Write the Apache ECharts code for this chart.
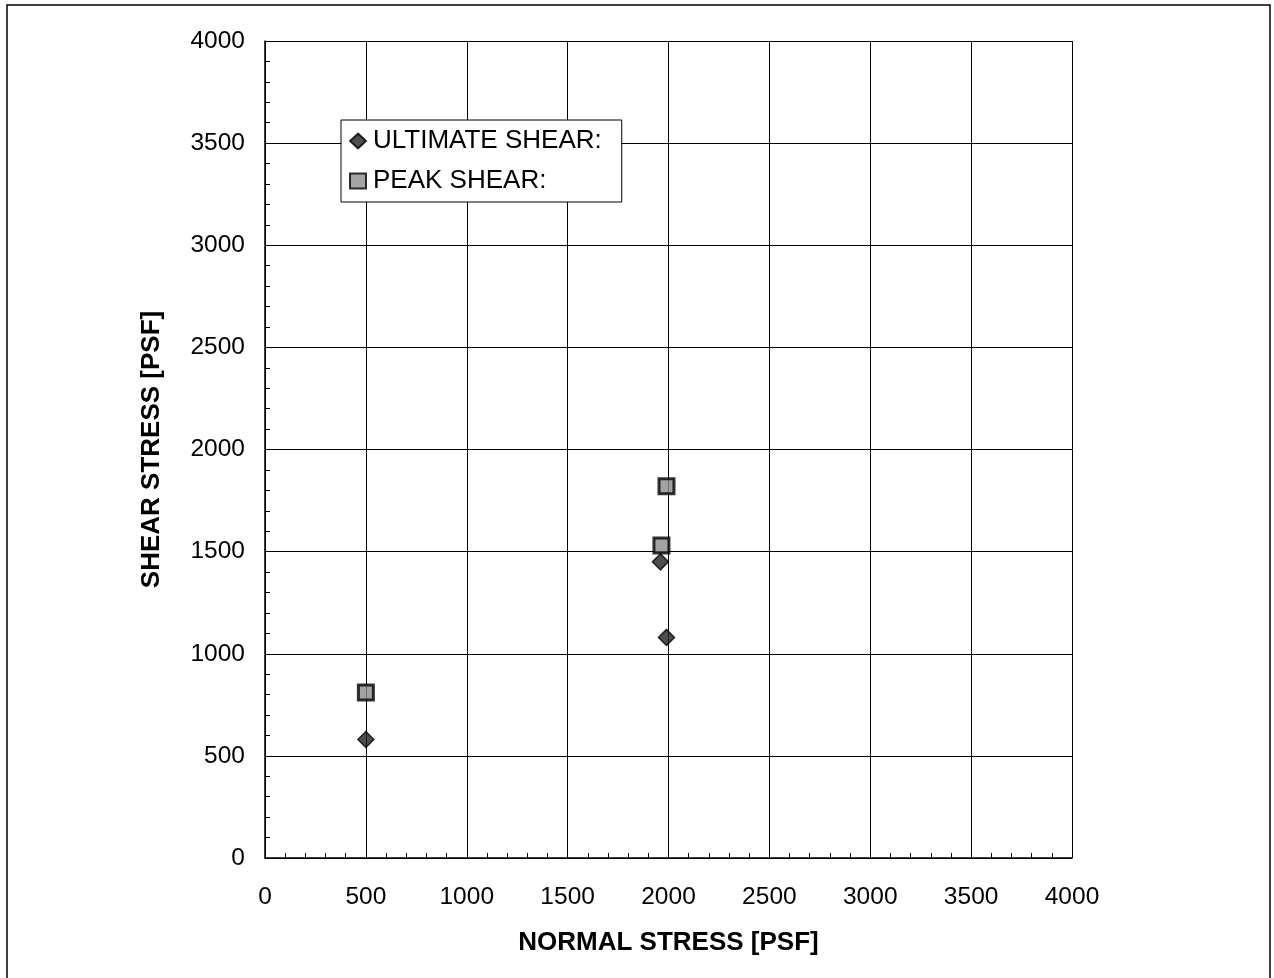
<!DOCTYPE html>
<html>
<head>
<meta charset="utf-8">
<style>
  html, body { margin: 0; padding: 0; background: #fff; }
  #chart { width: 1274px; height: 978px; }
</style>
<script src="https://cdn.jsdelivr.net/npm/echarts@6/dist/echarts.min.js"></script>
</head>
<body>
<div id="chart"></div>
<script>
// Direct shear test results: normal stress vs shear stress (psf)
const ultimateNormal = [500, 1960, 1990];
const ultimateShear  = [580, 1450, 1080];
const peakNormal     = [500, 1965, 1990];
const peakShear      = [810, 1530, 1820];

const seriesNames = ['ULTIMATE SHEAR:', 'PEAK SHEAR:'];
const xTitle = 'NORMAL STRESS [PSF]';
const yTitle = 'SHEAR STRESS [PSF]';

const pairs = (xs, ys) => xs.map((x, i) => [x, ys[i]]);

const font = 'Liberation Sans, Arial, sans-serif';

const axisCommon = {
  min: 0,
  max: 4000,
  interval: 500,
  axisLine: { show: true, lineStyle: { color: '#000', width: 1.5 } },
  axisTick: { show: true, inside: true, length: 5, lineStyle: { color: '#000' } },
  minorTick: { show: true, splitNumber: 5, length: 5, lineStyle: { color: '#000' } },
  splitLine: { show: true, lineStyle: { color: '#000', width: 1 } },
  axisLabel: { color: '#000', fontSize: 24.5, fontFamily: font, formatter: v => String(v) },
  nameTextStyle: { color: '#000', fontSize: 26, fontWeight: 'bold', fontFamily: font }
};

const chart = echarts.init(document.getElementById('chart'), null, { renderer: 'canvas' });

chart.setOption({
  animation: false,
  backgroundColor: '#fff',
  graphic: [{
    type: 'rect',
    shape: { x: 7, y: 5, width: 1263, height: 990 },
    style: { fill: 'none', stroke: '#000', lineWidth: 1.5 },
    z: -1
  }],
  grid: { left: 265, right: 202, top: 41, bottom: 120 },
  xAxis: Object.assign({}, axisCommon, {
    type: 'value',
    name: xTitle,
    nameLocation: 'middle',
    nameGap: 72,
    axisLabel: Object.assign({}, axisCommon.axisLabel, { margin: 27 })
  }),
  yAxis: Object.assign({}, axisCommon, {
    type: 'value',
    name: yTitle,
    nameLocation: 'middle',
    nameGap: 100,
    axisLabel: Object.assign({}, axisCommon.axisLabel, { margin: 20 })
  }),
  legend: {
    orient: 'vertical',
    left: 341,
    top: 120,
    padding: [8, 20, 8, 8],
    itemGap: 14,
    itemWidth: 16,
    itemHeight: 15,
    backgroundColor: '#fff',
    borderColor: '#000',
    borderWidth: 1,
    textStyle: { color: '#000', fontSize: 26, fontFamily: font, padding: [0, 0, 0, 2] },
    data: seriesNames
  },
  series: [
    {
      name: seriesNames[0],
      type: 'scatter',
      symbol: 'diamond',
      symbolSize: [16, 16],
      itemStyle: { color: '#222', borderColor: '#000', borderWidth: 1.5 },
      data: pairs(ultimateNormal, ultimateShear),
      z: 3
    },
    {
      name: seriesNames[1],
      type: 'scatter',
      symbol: 'rect',
      symbolSize: 15,
      itemStyle: { color: '#8c8c8c', borderColor: '#000', borderWidth: 3 },
      data: pairs(peakNormal, peakShear),
      z: 3
    }
  ]
});
</script>
</body>
</html>
